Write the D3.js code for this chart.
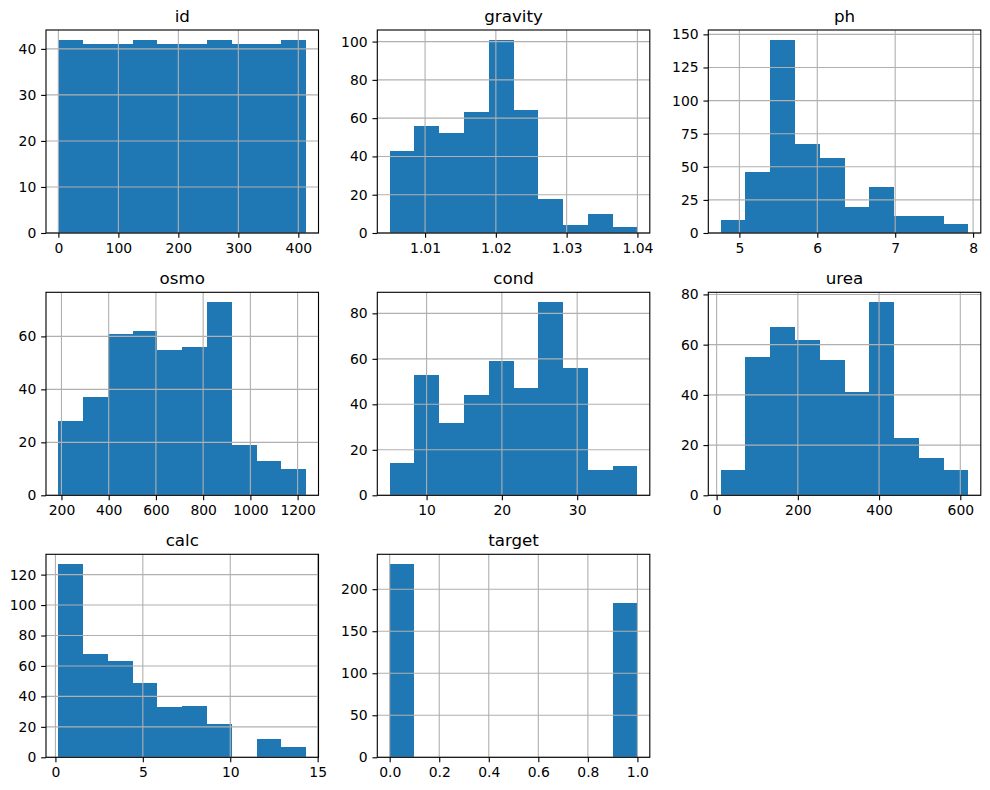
<!DOCTYPE html>
<html>
<head>
<meta charset="utf-8">
<script src="https://cdn.jsdelivr.net/npm/d3@7"></script>
<style>
  html, body { margin: 0; padding: 0; background: #fff; }
  svg { display: block; font-family: "DejaVu Sans", sans-serif; }
</style>
</head>
<body>
<div id="chart"></div>
<script>
// ---- data ----
const columns = ["id", "gravity", "ph", "osmo", "cond", "urea", "calc", "target"];
const rangeMin = [0, 1.005, 4.76, 187, 5.1, 10, 0.17, 0];
const rangeMax = [413, 1.040, 7.94, 1236, 38.0, 620, 14.34, 1];
const countsId      = [42, 41, 41, 42, 41, 41, 42, 41, 41, 42];
const countsGravity = [43, 56, 52, 63, 101, 64, 18, 4, 10, 3];
const countsPh      = [10, 46, 146, 67, 57, 20, 35, 13, 13, 7];
const countsOsmo    = [28, 37, 61, 62, 55, 56, 73, 19, 13, 10];
const countsCond    = [14, 53, 32, 44, 59, 47, 85, 56, 11, 13];
const countsUrea    = [10, 55, 67, 62, 54, 41, 77, 23, 15, 10];
const countsCalc    = [127, 68, 63, 49, 33, 34, 22, 0, 12, 7];
const countsTarget  = [230, 0, 0, 0, 0, 0, 0, 0, 0, 184];
const counts = [countsId, countsGravity, countsPh, countsOsmo, countsCond, countsUrea, countsCalc, countsTarget];
const xTickLabels = [
  ["0", "100", "200", "300", "400"],
  ["1.01", "1.02", "1.03", "1.04"],
  ["5", "6", "7", "8"],
  ["200", "400", "600", "800", "1000", "1200"],
  ["10", "20", "30"],
  ["0", "200", "400", "600"],
  ["0", "5", "10", "15"],
  ["0.0", "0.2", "0.4", "0.6", "0.8", "1.0"]
];
const yTickLabels = [
  ["0", "10", "20", "30", "40"],
  ["0", "20", "40", "60", "80", "100"],
  ["0", "25", "50", "75", "100", "125", "150"],
  ["0", "20", "40", "60"],
  ["0", "20", "40", "60", "80"],
  ["0", "20", "40", "60", "80"],
  ["0", "20", "40", "60", "80", "100", "120"],
  ["0", "50", "100", "150", "200"]
];

// ---- layout ----
const W = 990, H = 790;
const colLeft = [46, 377.3, 708.3];
const rowTop = [30, 292.3, 554.3];
const aw = 272.5, ah = 203;
const barColor = "#1f77b4";
const gridColor = "#b0b0b0";
const tickFont = 13.9, titleFont = 16.7;
const tickLen = 4.86, tickPad = 4.86, lw = 1.11;

const svg = d3.select("#chart").append("svg").attr("width", W).attr("height", H);

columns.forEach((name, i) => {
  const r = Math.floor(i / 3), c = i % 3;
  const g = svg.append("g").attr("transform", `translate(${colLeft[c]},${rowTop[r]})`);
  const lo = rangeMin[i], hi = rangeMax[i], span = hi - lo;
  const cnt = counts[i];
  const nb = cnt.length;
  const edges = d3.range(nb + 1).map(k => lo + k * span / nb);
  const x = d3.scaleLinear().domain([lo - 0.05 * span, hi + 0.05 * span]).range([0, aw]);
  const y = d3.scaleLinear().domain([0, d3.max(cnt) * 1.05]).range([ah, 0]);

  // bars
  g.selectAll("rect.bar").data(cnt).enter().append("rect")
    .attr("class", "bar")
    .attr("x", (d, k) => x(edges[k]))
    .attr("width", (d, k) => x(edges[k + 1]) - x(edges[k]))
    .attr("y", d => y(d))
    .attr("height", d => ah - y(d))
    .attr("fill", barColor)
    .attr("shape-rendering", "crispEdges");

  const xt = xTickLabels[i].map(Number);
  const yt = yTickLabels[i].map(Number);

  // grid
  g.selectAll("line.gx").data(xt).enter().append("line")
    .attr("x1", d => x(d)).attr("x2", d => x(d)).attr("y1", 0).attr("y2", ah)
    .attr("stroke", gridColor).attr("stroke-width", lw);
  g.selectAll("line.gy").data(yt).enter().append("line")
    .attr("y1", d => y(d)).attr("y2", d => y(d)).attr("x1", 0).attr("x2", aw)
    .attr("stroke", gridColor).attr("stroke-width", lw);

  // axes
  const xa = g.append("g").attr("transform", `translate(0,${ah})`)
    .call(d3.axisBottom(x).tickValues(xt).tickSize(tickLen).tickPadding(tickPad)
      .tickFormat((d, k) => xTickLabels[i][k]));
  const ya = g.append("g")
    .call(d3.axisLeft(y).tickValues(yt).tickSize(tickLen).tickPadding(tickPad)
      .tickFormat((d, k) => yTickLabels[i][k]));
  [xa, ya].forEach(a => {
    a.select(".domain").remove();
    a.selectAll("line").attr("stroke", "#000").attr("stroke-width", lw);
    a.selectAll("text").attr("fill", "#000").style("font-size", tickFont + "px")
      .style("font-family", "'DejaVu Sans', sans-serif");
  });

  // spines
  g.append("rect").attr("x", 0).attr("y", 0).attr("width", aw).attr("height", ah)
    .attr("fill", "none").attr("stroke", "#000").attr("stroke-width", lw);

  // title
  g.append("text").attr("x", aw / 2).attr("y", -8.3)
    .attr("text-anchor", "middle").style("font-size", titleFont + "px")
    .attr("fill", "#000").text(name);
});
</script>
</body>
</html>
